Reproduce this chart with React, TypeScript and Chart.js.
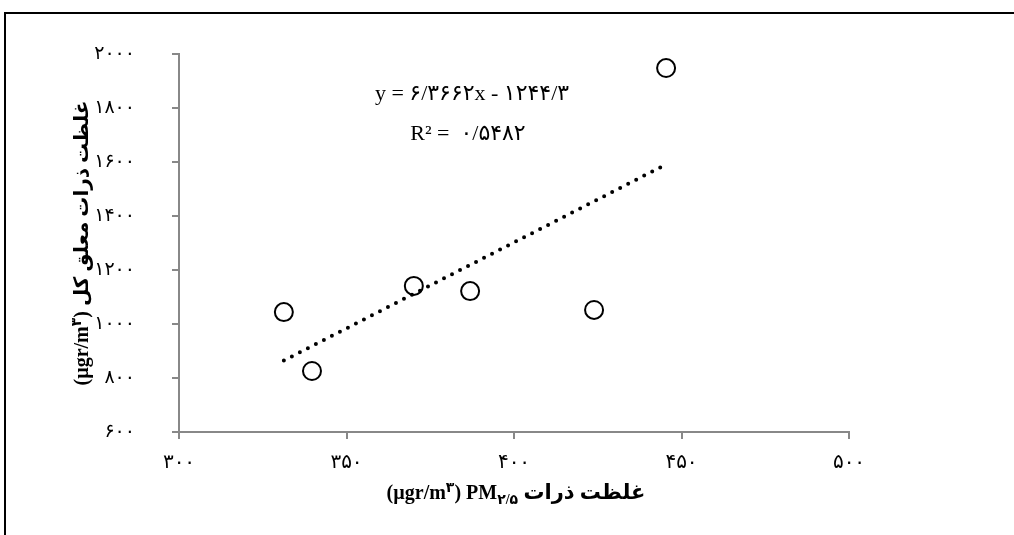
import React, { useEffect, useRef } from "react";
import { Chart, registerables } from "chart.js";

Chart.register(...registerables);

const pm25Values = [331.3, 339.7, 370.1, 386.9, 423.9, 445.4];
const tspValues = [1044, 826, 1141, 1122, 1052, 1948];
const trendSlope = 6.3662;
const trendIntercept = -1244.3;
const equationLine = "y = ۶/۳۶۶۲x - ۱۲۴۴/۳";
const r2Line = "R² =  ۰/۵۴۸۲";
const xTickRange = [300, 500, 50];
const yTickRange = [600, 2000, 200];

const fa = (v: number | string) =>
  String(v).replace(/\d/g, (d) => "۰۱۲۳۴۵۶۷۸۹"[+d]);

const SERIF = "'Liberation Serif', 'DejaVu Serif', 'DejaVu Sans', serif";

type Piece = { text: string; size: number; dy: number };

function drawRich(ctx: CanvasRenderingContext2D, pieces: Piece[], cx: number, cy: number, rot: number) {
  ctx.save();
  ctx.translate(cx, cy);
  ctx.rotate(rot);
  ctx.fillStyle = "#000";
  ctx.textBaseline = "middle";
  ctx.textAlign = "left";
  let total = 0;
  const widths = pieces.map((p) => {
    ctx.font = `bold ${p.size}px ${SERIF}`;
    const w = ctx.measureText(p.text).width;
    total += w;
    return w;
  });
  let x = -total / 2;
  pieces.forEach((p, i) => {
    ctx.font = `bold ${p.size}px ${SERIF}`;
    ctx.fillText(p.text, x, p.dy);
    x += widths[i];
  });
  ctx.restore();
}

const overlayPlugin = {
  id: "overlay",
  afterDraw(chart: any) {
    const ctx = chart.ctx as CanvasRenderingContext2D;
    const area = chart.chartArea;
    const cx = (area.left + area.right) / 2;
    drawRich(
      ctx,
      [
        { text: "(µgr/m", size: 20, dy: 0 },
        { text: "۳", size: 14, dy: -6 },
        { text: ") PM", size: 20, dy: 0 },
        { text: "۲/۵", size: 14, dy: 6 },
        { text: " غلظت ذرات", size: 21, dy: 0 },
      ],
      cx + 2,
      494,
      0
    );
    drawRich(
      ctx,
      [
        { text: "(µgr/m", size: 20, dy: 0 },
        { text: "۳", size: 14, dy: -6 },
        { text: ") ", size: 20, dy: 0 },
        { text: "غلظت ذرات معلق کل", size: 20, dy: 0 },
      ],
      83,
      (area.top + area.bottom) / 2,
      -Math.PI / 2
    );
    ctx.save();
    ctx.fillStyle = "#000";
    ctx.font = `22px ${SERIF}`;
    ctx.textAlign = "center";
    ctx.textBaseline = "middle";
    ctx.fillText(equationLine, 472, 94);
    ctx.fillText(r2Line, 468, 134);
    ctx.restore();
  },
};

export default function App() {
  const ref = useRef<HTMLCanvasElement>(null);
  useEffect(() => {
    if (!ref.current) return;
    const xMin = Math.min(...pm25Values);
    const xMax = Math.max(...pm25Values);
    const trend = [xMin, xMax].map((x) => ({ x, y: trendSlope * x + trendIntercept }));
    const chart = new Chart(ref.current, {
      type: "scatter",
      data: {
        datasets: [
          {
            type: "line",
            data: trend,
            borderColor: "#000",
            borderWidth: 4,
            borderDash: [0, 9],
            borderCapStyle: "round",
            pointRadius: 0,
            fill: false,
          } as any,
          {
            data: pm25Values.map((x, i) => ({ x, y: tspValues[i] })),
            pointRadius: 9,
            pointHoverRadius: 9,
            pointBorderWidth: 2,
            borderColor: "#000",
            backgroundColor: "rgba(0,0,0,0)",
            pointBackgroundColor: "rgba(0,0,0,0)",
            pointBorderColor: "#000",
          },
        ],
      },
      options: {
        animation: false,
        responsive: false,
        devicePixelRatio: 1,
        layout: { padding: { left: 0, right: 165, top: 54, bottom: 0 } },
        plugins: { legend: { display: false }, tooltip: { enabled: false } },
        scales: {
          x: {
            type: "linear",
            min: xTickRange[0],
            max: xTickRange[1],
            ticks: {
              stepSize: xTickRange[2],
              callback: (v: any) => fa(v),
              color: "#000",
              font: { family: SERIF, size: 20 },
              padding: 12,
              maxRotation: 0,
            },
            grid: { drawOnChartArea: false, drawTicks: true, tickLength: 7, color: "#888", lineWidth: 2 },
            border: { color: "#888", width: 2 },
            afterFit: (s: any) => {
              s.height = 103;
            },
          },
          y: {
            type: "linear",
            min: yTickRange[0],
            max: yTickRange[1],
            ticks: {
              stepSize: yTickRange[2],
              callback: (v: any) => fa(v),
              color: "#000",
              font: { family: SERIF, size: 19 },
              padding: 37,
            },
            grid: { drawOnChartArea: false, drawTicks: true, tickLength: 7, color: "#888", lineWidth: 2 },
            border: { color: "#888", width: 2 },
            afterFit: (s: any) => {
              s.width = 179;
            },
          },
        },
      },
      plugins: [overlayPlugin],
    } as any);
    return () => chart.destroy();
  }, []);
  return (
    <div style={{ position: "fixed", left: 0, top: 0, width: 1014, height: 535, overflow: "hidden", background: "#fff" }}>
      <div
        style={{
          position: "absolute",
          left: 4,
          top: 12,
          width: 1100,
          height: 600,
          border: "2px solid #000",
        }}
      />
      <canvas ref={ref} width={1014} height={535} style={{ position: "absolute", left: 0, top: 0, width: 1014, height: 535 }} />
    </div>
  );
}
